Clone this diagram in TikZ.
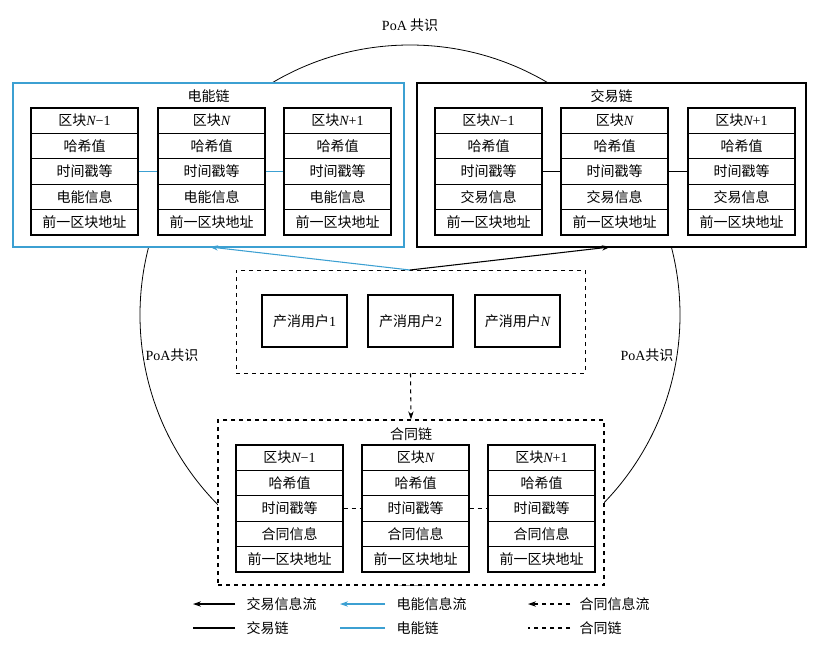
\documentclass[tikz,border=0pt]{standalone}
\usepackage{fontspec}
\setmainfont{Liberation Serif}
\newfontfamily\cjk{Noto Sans CJK SC}
\usetikzlibrary{arrows.meta}
\definecolor{eblue}{RGB}{60,160,210}
\newcommand{\nI}{{\rmfamily\itshape N}}
\tikzset{
 cell/.style={draw,thick,minimum width=80.25pt,minimum height=19.05pt,inner sep=0pt,font=\cjk\fontsize{10.5}{11}\selectfont,fill=white},
 lbl/.style={font=\cjk\fontsize{10.5}{11}\selectfont,inner sep=1pt},
 frame/.style={fill=white,line width=0.9pt},
 arr/.style={-{Stealth[length=6pt,width=4pt]},line width=0.8pt},
}
\newcommand{\mychain}[5]{%
 \foreach \cx/\bn/\hd in {#2/a/{区块\nI{\rmfamily −1}},#3/b/{区块\nI},#4/c/{区块\nI{\rmfamily +1}}}{
  \node[cell] (#1\bn1) at (\cx,#5+12.7) {\hd};
  \node[cell] (#1\bn2) at (\cx,#5+38.1) {哈希值};
  \node[cell] (#1\bn3) at (\cx,#5+63.5) {时间戳等};
  \node[cell] (#1\bn4) at (\cx,#5+88.9) {\infotxt};
  \node[cell] (#1\bn5) at (\cx,#5+114.3) {前一区块地址};
 }}
\begin{document}
\begin{tikzpicture}[x=0.75pt,y=-0.75pt]
\useasboundingbox (0,0) rectangle (818,651);
% circle
\node[draw,circle,minimum size=540*0.75pt,inner sep=0pt,line width=0.6pt] (cons) at (410,315) {};
% frames
\node[frame,draw=eblue,minimum width=391*0.75pt,minimum height=164*0.75pt,inner sep=0pt] (echain) at (208.5,165) {};
\node[frame,draw=black,minimum width=389*0.75pt,minimum height=164*0.75pt,inner sep=0pt] (tchain) at (611.5,165) {};
\node[frame,draw=black,dashed,minimum width=349*0.75pt,minimum height=103*0.75pt,inner sep=0pt,line width=0.6pt] (users) at (410.5,321.5) {};
\node[frame,draw=black,dashed,minimum width=386*0.75pt,minimum height=165*0.75pt,inner sep=0pt] (cchain) at (411,502.5) {};
\node[lbl] (etitle) at (208.5,96) {电能链};
\node[lbl] (ttitle) at (611.5,96) {交易链};
\node[lbl] (ctitle) at (411,434) {合同链};
\node[lbl] (poat) at (410,25) {{\rmfamily PoA} 共识};
\node[lbl] (poal) at (172,355) {{\rmfamily PoA}共识};
\node[lbl] (poar) at (647,355) {{\rmfamily PoA}共识};
% chains
\def\infotxt{电能信息}
\mychain{e}{84.5}{211.5}{337.5}{108}
\def\infotxt{交易信息}
\mychain{t}{488.5}{614.5}{741.5}{108}
\def\infotxt{合同信息}
\mychain{c}{289.5}{415.5}{541.5}{445}
\draw[eblue,line width=1.2pt] (ea3.east)--(eb3.west);
\draw[eblue,line width=1.2pt] (eb3.east)--(ec3.west);
\draw[line width=0.8pt] (ta3)--(tb3) (tb3)--(tc3);
\draw[dashed,line width=0.8pt] (ca3)--(cb3) (cb3)--(cc3);
% users
\foreach \ux/\n/\t in {304.5/u1/{产消用户{\rmfamily 1}},410.5/u2/{产消用户{\rmfamily 2}},517.5/uN/{产消用户\nI}}
 \node[cell,minimum width=63.75pt,minimum height=39pt] (\n) at (\ux,321) {\t};
% arrows
\coordinate (src) at (410,270);
\coordinate (edst) at (210,247);
\coordinate (tdst) at (610,247);
\draw[arr,eblue] (src)--(edst);
\draw[arr] (src)--(tdst);
\draw[arr,dashed] (users.south)--(cchain.north);
% legend
\coordinate (l1a) at (235,604); \coordinate (l1b) at (193,604);
\coordinate (l2a) at (385,604); \coordinate (l2b) at (340,604);
\coordinate (l3a) at (570,604); \coordinate (l3b) at (528,604);
\coordinate (m1a) at (235,628); \coordinate (m1b) at (193,628);
\coordinate (m2a) at (385,628); \coordinate (m2b) at (340,628);
\coordinate (m3a) at (570,628); \coordinate (m3b) at (528,628);
\draw[arr] (l1a)--(l1b);
\draw[arr,eblue] (l2a)--(l2b);
\draw[arr,dashed] (l3a)--(l3b);
\draw[line width=0.8pt] (m1a)--(m1b);
\draw[eblue,line width=0.8pt] (m2a)--(m2b);
\draw[dashed,line width=0.8pt] (m3a)--(m3b);
\node[lbl,anchor=west] (t1) at (245,604) {交易信息流};
\node[lbl,anchor=west] (t2) at (395,604) {电能信息流};
\node[lbl,anchor=west] (t3) at (578,604) {合同信息流};
\node[lbl,anchor=west] (t4) at (245,628) {交易链};
\node[lbl,anchor=west] (t5) at (395,628) {电能链};
\node[lbl,anchor=west] (t6) at (578,628) {合同链};
\end{tikzpicture}
\end{document}
